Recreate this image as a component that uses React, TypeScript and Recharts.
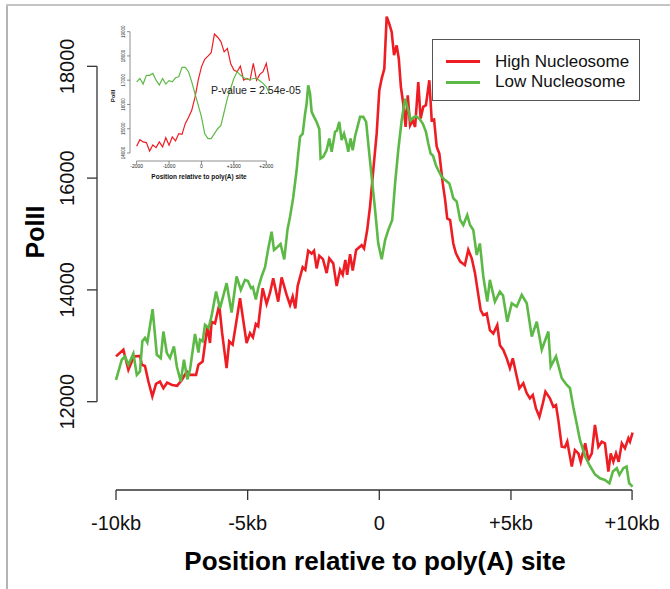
import { LineChart, Line, XAxis, YAxis, ReferenceLine, Legend } from "recharts";

// main chart, position in bp relative to poly(A) site
const HIGH_POS = [-10000,-9720,-9530,-9320,-9090,-9020,-8900,-8770,-8620,-8480,-8330,-8200,-8060,-7870,-7680,-7500,-7310,-7190,-6960,-6870,-6710,-6530,-6430,-6370,-6240,-6080,-5970,-5800,-5700,-5570,-5400,-5290,-5040,-4910,-4800,-4690,-4600,-4430,-4280,-4150,-4030,-3840,-3710,-3520,-3390,-3290,-3190,-3100,-2910,-2810,-2700,-2570,-2480,-2380,-2280,-2140,-2000,-1900,-1750,-1620,-1490,-1390,-1290,-1220,-1110,-1010,-880,-670,-580,-460,-350,-230,-100,0,90,190,280,380,470,560,660,740,820,910,1000,1080,1170,1270,1360,1480,1570,1670,1770,1900,1990,2080,2180,2280,2410,2500,2580,2690,2810,2910,3070,3250,3380,3510,3635,3760,3850,3950,4080,4200,4330,4480,4580,4710,4840,4960,5070,5220,5320,5470,5600,5720,5830,5950,6080,6210,6310,6480,6610,6710,6800,6930,7050,7140,7220,7310,7430,7560,7650,7820,7940,8070,8190,8320,8450,8570,8700,8790,8890,8990,9090,9210,9330,9460,9520,9620];
const HIGH_VAL = [12810,12930,12570,12810,12820,12660,12640,12360,12095,12320,12360,12240,12340,12300,12285,12390,12540,12480,12480,12660,12720,13345,13050,13430,13400,13730,13230,12600,13080,13020,13520,13850,13050,13225,13150,13390,13350,14030,13750,13950,14210,13790,14225,13910,13730,13880,13670,14070,14405,14360,14700,14650,14700,14385,14610,14550,14300,14565,14475,14070,14360,14270,14535,14270,14640,14345,14715,14800,14740,15070,15500,16140,16795,17570,17780,17955,18890,18760,18615,18200,18375,18135,17630,17330,16915,17480,16945,17035,16915,17720,17065,17275,17305,17750,17035,17050,16560,16440,15905,15610,15280,15250,14830,14655,14505,14445,14715,14565,14300,13910,13640,13550,13580,13280,13220,13370,13010,12925,12775,12600,12775,12450,12240,12330,12150,12060,12120,11880,11730,11970,12180,12060,11910,11940,11670,11195,11185,11285,11075,10840,11135,11075,10925,11255,10960,11075,11585,11195,11285,11255,10750,11075,10925,11075,10925,11255,11165,11345,11285,11445];

const LOW_POS = [-10000,-9780,-9660,-9530,-9340,-9210,-9090,-9000,-8900,-8810,-8610,-8450,-8300,-8200,-8070,-7950,-7800,-7690,-7540,-7420,-7290,-7190,-7000,-6870,-6810,-6710,-6620,-6480,-6370,-6200,-6050,-5800,-5610,-5420,-5260,-5100,-4990,-4870,-4800,-4690,-4600,-4470,-4340,-4220,-4090,-4000,-3890,-3750,-3610,-3490,-3390,-3270,-3140,-3080,-3010,-2910,-2820,-2760,-2700,-2630,-2570,-2480,-2380,-2280,-2230,-2130,-2000,-1900,-1810,-1680,-1610,-1520,-1430,-1340,-1240,-1180,-1090,-1010,-920,-730,-610,-500,-420,-290,-160,-40,90,220,340,490,600,720,850,980,1100,1190,1280,1390,1520,1650,1770,1860,1950,2040,2150,2240,2370,2500,2660,2750,2810,2940,3070,3190,3340,3445,3570,3700,3820,3950,4100,4200,4390,4580,4700,4860,5030,5220,5410,5600,5790,5980,6170,6420,6510,6710,6930,7120,7240,7370,7500,7620,7820,8000,8190,8380,8570,8740,8870,9020,9120,9270,9390,9490,9620];
const LOW_VAL = [12390,12750,12810,12660,12860,12480,12540,13080,13140,13060,13655,12840,12780,13255,12870,12780,12990,12630,12360,12750,12400,12570,13210,12880,13110,13080,13375,13320,13535,13970,13670,14120,13595,14240,14000,14180,14160,14030,14050,13830,14030,14240,14405,14730,15040,14715,14760,14820,14545,15070,15310,15650,16140,16440,16740,16795,17150,17330,17660,17510,17185,17095,17005,16880,16350,16380,16500,16710,16470,16830,16850,17005,16680,16795,16620,16470,16710,16500,16750,17095,17095,17005,16620,16020,15430,14830,14550,14890,15070,15250,15905,16500,17035,17420,17215,17035,17080,17110,17065,16975,16830,16620,16440,16400,16230,16140,16025,15965,15905,15755,15640,15580,15250,15160,15340,15160,15070,14625,14830,14240,13790,14180,13790,13970,13900,13430,13760,13700,13910,13760,13165,13430,12930,13255,12630,12810,12420,12300,12245,11900,11600,11315,11020,10850,10700,10630,10600,10540,10750,10810,10690,10810,10840,10540,10480];

const X_TICKS = [-10000, -5000, 0, 5000, 9600];
const X_TICK_LABELS = ["-10kb", "-5kb", "0", "+5kb", "+10kb"];
const Y_TICKS = [12000, 14000, 16000, 18000];
const X_DOMAIN = [-10722, 10471];
const Y_DOMAIN = [10420, 19097];

// inset, -2kb .. +2.1kb
const INSET_POS = [-2000,-1900,-1800,-1700,-1600,-1500,-1400,-1300,-1200,-1100,-1000,-900,-800,-700,-600,-500,-400,-300,-200,-100,0,100,200,300,400,500,600,700,800,900,1000,1100,1200,1300,1400,1500,1600,1700,1800,1900,2000,2100];
const INSET_HIGH = [14275,14550,14455,14430,14080,14330,14220,14455,14250,14630,14320,14660,14500,14800,14770,15210,15460,15760,16290,17000,17550,17860,17990,18130,18900,18770,18590,18170,18310,17690,17420,17350,17580,17000,17070,17000,17690,17000,17240,17350,17690,16970];
const INSET_LOW = [16930,17070,16840,17200,17200,17280,17000,16800,17070,16840,16980,16930,17100,17140,17530,17530,17350,16930,16450,15970,15490,14800,14590,14590,14800,15000,15140,15690,16250,16660,17070,17350,17210,17110,17040,17030,17070,17070,16980,16870,16730,16450];
const INSET_X_TICKS = [-2000, -1000, 0, 1000, 2000];
const INSET_X_LABELS = ["-2000", "-1000", "0", "+1000", "+2000"];
const INSET_Y_TICKS = [14000, 15000, 16000, 17000, 18000, 19000];
const INSET_X_DOMAIN = [-2205, 2300];
const INSET_Y_DOMAIN = [13670, 19110];

const RED = "#ee1d24";
const GREEN = "#5db946";
const AXIS = "#333";
const FONT = "'Liberation Sans', Arial, sans-serif";

const zip = (xs: number[], ys: number[]) => xs.map((x, i) => ({ x, y: ys[i] }));

const highData = zip(HIGH_POS, HIGH_VAL);
const lowData = zip(LOW_POS, LOW_VAL);
const insetHigh = zip(INSET_POS, INSET_HIGH);
const insetLow = zip(INSET_POS, INSET_LOW);

const MainXTick = (props: any) => {
  const { x, payload } = props;
  const i = X_TICKS.indexOf(payload.value);
  return (
    <text x={x} y={523} textAnchor="middle" dominantBaseline="central" fontSize={20} fontFamily={FONT} fill="#111">
      {X_TICK_LABELS[i]}
    </text>
  );
};

const MainYTick = (props: any) => {
  const { y, payload } = props;
  return (
    <text x={67} y={y} transform={`rotate(-90, 67, ${y})`} textAnchor="middle" dominantBaseline="central" fontSize={20} fontFamily={FONT} fill="#111">
      {payload.value}
    </text>
  );
};

const InsetXTick = (props: any) => {
  const { x, payload } = props;
  const i = INSET_X_TICKS.indexOf(payload.value);
  return (
    <text x={x} y={156} textAnchor="middle" dominantBaseline="central" fontSize={5} fontFamily={FONT} fill="#222">
      {INSET_X_LABELS[i]}
    </text>
  );
};

const InsetYTick = (props: any) => {
  const { y, payload } = props;
  return (
    <text x={24} y={y} transform={`rotate(-90, 24, ${y})`} textAnchor="middle" dominantBaseline="central" fontSize={4.5} fontFamily={FONT} fill="#222">
      {payload.value}
    </text>
  );
};

const LegendBox = () => {
  const rows = [
    { name: "High Nucleosome", color: RED, top: 21.5 },
    { name: "Low Nucleosome", color: GREEN, top: 42 },
  ];
  return (
    <div style={{ position: "relative", width: 208, height: 62, border: "1.5px solid #555", background: "#fff", boxSizing: "border-box" }}>
      {rows.map((r) => (
        <div key={r.name}>
          <div style={{ position: "absolute", left: 13, top: r.top - 1.5, width: 34, height: 3, background: r.color }} />
          <div style={{ position: "absolute", left: 62, top: r.top - 10, fontSize: 17, lineHeight: "20px", fontFamily: FONT, color: "#111", whiteSpace: "nowrap" }}>
            {r.name}
          </div>
        </div>
      ))}
    </div>
  );
};

export default function App() {
  return (
    <div style={{ position: "absolute", left: 0, top: 0, width: 670, height: 589, background: "#fff", fontFamily: FONT, overflow: "hidden" }}>
      <div style={{ position: "absolute", left: 6, top: 4, width: 2, height: 585, background: "#b4b4b4" }} />
      <div style={{ position: "absolute", left: 6, top: 4, width: 664, height: 1.5, background: "#c4c4c4" }} />

      <LineChart width={670} height={589} margin={{ top: 5, right: 15, bottom: 0, left: 0 }}>
        <XAxis
          type="number"
          dataKey="x"
          domain={X_DOMAIN}
          ticks={X_TICKS}
          interval={0}
          allowDataOverflow
          height={99}
          axisLine={false}
          tickLine={{ stroke: AXIS, strokeWidth: 1.3 }}
          tickSize={10}
          tick={MainXTick}
        />
        <YAxis
          type="number"
          domain={Y_DOMAIN}
          ticks={Y_TICKS}
          interval={0}
          allowDataOverflow
          width={97}
          axisLine={false}
          tickLine={{ stroke: AXIS, strokeWidth: 1.3 }}
          tickSize={10}
          tick={MainYTick}
        />
        <ReferenceLine segment={[{ x: X_TICKS[0], y: Y_DOMAIN[0] }, { x: X_TICKS[4], y: Y_DOMAIN[0] }]} stroke={AXIS} strokeWidth={1.3} ifOverflow="visible" />
        <ReferenceLine segment={[{ x: X_DOMAIN[0], y: Y_TICKS[0] }, { x: X_DOMAIN[0], y: Y_TICKS[3] }]} stroke={AXIS} strokeWidth={1.3} ifOverflow="visible" />
        <Line data={highData} dataKey="y" name="High Nucleosome" stroke={RED} strokeWidth={2.6} dot={false} type="linear" isAnimationActive={false} />
        <Line data={lowData} dataKey="y" name="Low Nucleosome" stroke={GREEN} strokeWidth={2.6} dot={false} type="linear" isAnimationActive={false} />
        <Legend
          layout="horizontal"
          verticalAlign="middle"
          align="center"
          content={() => <LegendBox />}
          wrapperStyle={{ position: "absolute", left: 432, top: 39, width: 208, height: 62 }}
        />
      </LineChart>

      <div style={{ position: "absolute", left: 100, top: 10, width: 185, height: 180 }}>
        <LineChart width={185} height={180} margin={{ top: 19, right: 9, bottom: 0, left: 0 }}>
          <XAxis
            type="number"
            dataKey="x"
            domain={INSET_X_DOMAIN}
            ticks={INSET_X_TICKS}
            interval={0}
            allowDataOverflow
            height={29}
            axisLine={false}
            tickLine={{ stroke: "#444", strokeWidth: 0.6 }}
            tickSize={3}
            tick={InsetXTick}
          />
          <YAxis
            type="number"
            domain={INSET_Y_DOMAIN}
            ticks={INSET_Y_TICKS}
            interval={0}
            allowDataOverflow
            width={30}
            axisLine={false}
            tickLine={{ stroke: "#444", strokeWidth: 0.6 }}
            tickSize={3}
            tick={InsetYTick}
          />
          <ReferenceLine segment={[{ x: INSET_X_TICKS[0], y: INSET_Y_DOMAIN[0] }, { x: INSET_X_TICKS[4], y: INSET_Y_DOMAIN[0] }]} stroke="#444" strokeWidth={0.6} ifOverflow="visible" />
          <ReferenceLine segment={[{ x: INSET_X_DOMAIN[0], y: INSET_Y_TICKS[0] }, { x: INSET_X_DOMAIN[0], y: INSET_Y_TICKS[5] }]} stroke="#444" strokeWidth={0.6} ifOverflow="visible" />
          <Line data={insetHigh} dataKey="y" stroke={RED} strokeWidth={1.2} dot={false} type="linear" isAnimationActive={false} />
          <Line data={insetLow} dataKey="y" stroke={GREEN} strokeWidth={1.2} dot={false} type="linear" isAnimationActive={false} />
        </LineChart>
      </div>

      <div style={{ position: "absolute", left: 199, top: 176, transform: "translate(-50%, -50%)", fontSize: 6.5, fontWeight: "bold", whiteSpace: "nowrap", color: "#111" }}>
        Position relative to poly(A) site
      </div>
      <div style={{ position: "absolute", left: 113, top: 96, transform: "translate(-50%, -50%) rotate(-90deg)", fontSize: 6, fontWeight: "bold", whiteSpace: "nowrap", color: "#111" }}>
        PolII
      </div>
      <div style={{ position: "absolute", left: 211, top: 90, transform: "translateY(-50%)", fontSize: 10.6, whiteSpace: "nowrap", color: "#222" }}>
        P-value = 2.54e-05
      </div>

      <div style={{ position: "absolute", left: 375, top: 561, transform: "translate(-50%, -50%)", fontSize: 26, fontWeight: "bold", whiteSpace: "nowrap", color: "#000" }}>
        Position relative to poly(A) site
      </div>
      <div style={{ position: "absolute", left: 35, top: 232, transform: "translate(-50%, -50%) rotate(-90deg)", fontSize: 25, fontWeight: "bold", whiteSpace: "nowrap", color: "#000" }}>
        PolII
      </div>
    </div>
  );
}
